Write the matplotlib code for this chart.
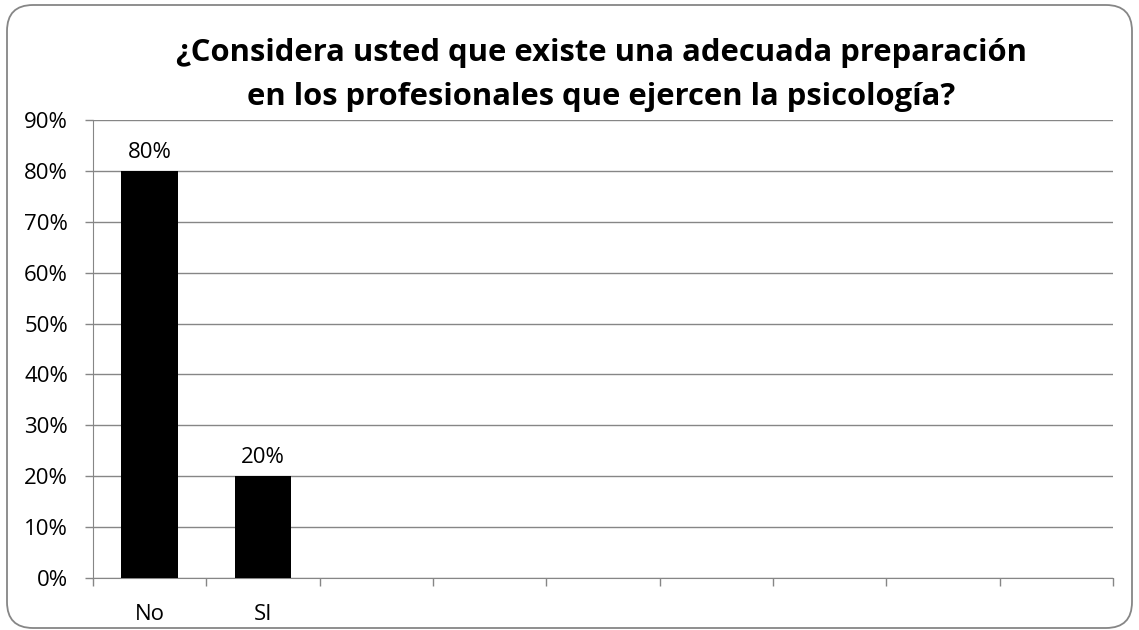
import numpy as np
import matplotlib.pyplot as plt
from matplotlib.patches import FancyBboxPatch
from matplotlib.transforms import IdentityTransform

plt.rcParams['font.family'] = ['Open Sans', 'DejaVu Sans']

# data
categories = ["No", "SI", "", "", "", "", "", "", ""]
values = [0.80, 0.20, None, None, None, None, None, None, None]
yticks = [0, 0.1, 0.2, 0.3, 0.4, 0.5, 0.6, 0.7, 0.8, 0.9]
title = "¿Considera usted que existe una adecuada preparación\nen los profesionales que ejercen la psicología?"

fig = plt.figure(figsize=(11.39, 6.30), dpi=100)

# rounded chart border (pixel coords, origin bottom-left)
border = FancyBboxPatch((7, 2), 1125, 623,
                        boxstyle="round,pad=0,rounding_size=26",
                        transform=IdentityTransform(), facecolor="none",
                        edgecolor="#868686", linewidth=1.3)
fig.patches.append(border)

ax = fig.add_axes([93 / 1139, 52 / 630, 1020 / 1139, 458 / 630])
ax.set_facecolor("none")

x = np.arange(len(categories))
for xi, v in zip(x, values):
    if v is None:
        continue
    ax.bar(xi, v, width=0.5, color="black", zorder=3)
    ax.text(xi, v + 0.016, f"{v:.0%}", ha="center", va="bottom", fontsize=16)

ax.set_xlim(-0.5, len(categories) - 0.5)
ax.set_ylim(0, 0.9)
ax.set_yticks(yticks)
ax.set_yticklabels([f"{t:.0%}" for t in yticks], fontsize=16)
ax.yaxis.grid(True, color="#868686", linewidth=1)
ax.set_axisbelow(True)

ax.set_xticks(x)
ax.set_xticklabels(categories, fontsize=16)
ax.set_xticks(np.arange(len(categories) + 1) - 0.5, minor=True)
ax.tick_params(axis="x", which="major", length=0, pad=19)
ax.tick_params(axis="x", which="minor", length=6, color="#868686", width=1)
ax.tick_params(axis="y", length=6, color="#868686", width=1, pad=12)

for s in ["top", "right"]:
    ax.spines[s].set_visible(False)
ax.spines["left"].set_color("#868686")
ax.spines["bottom"].set_color("#868686")

fig.text(0.528, 0.881, title, ha="center", va="center", fontsize=22.3,
         fontweight="bold", linespacing=1.6)

fig.savefig("out.png", dpi=100)
